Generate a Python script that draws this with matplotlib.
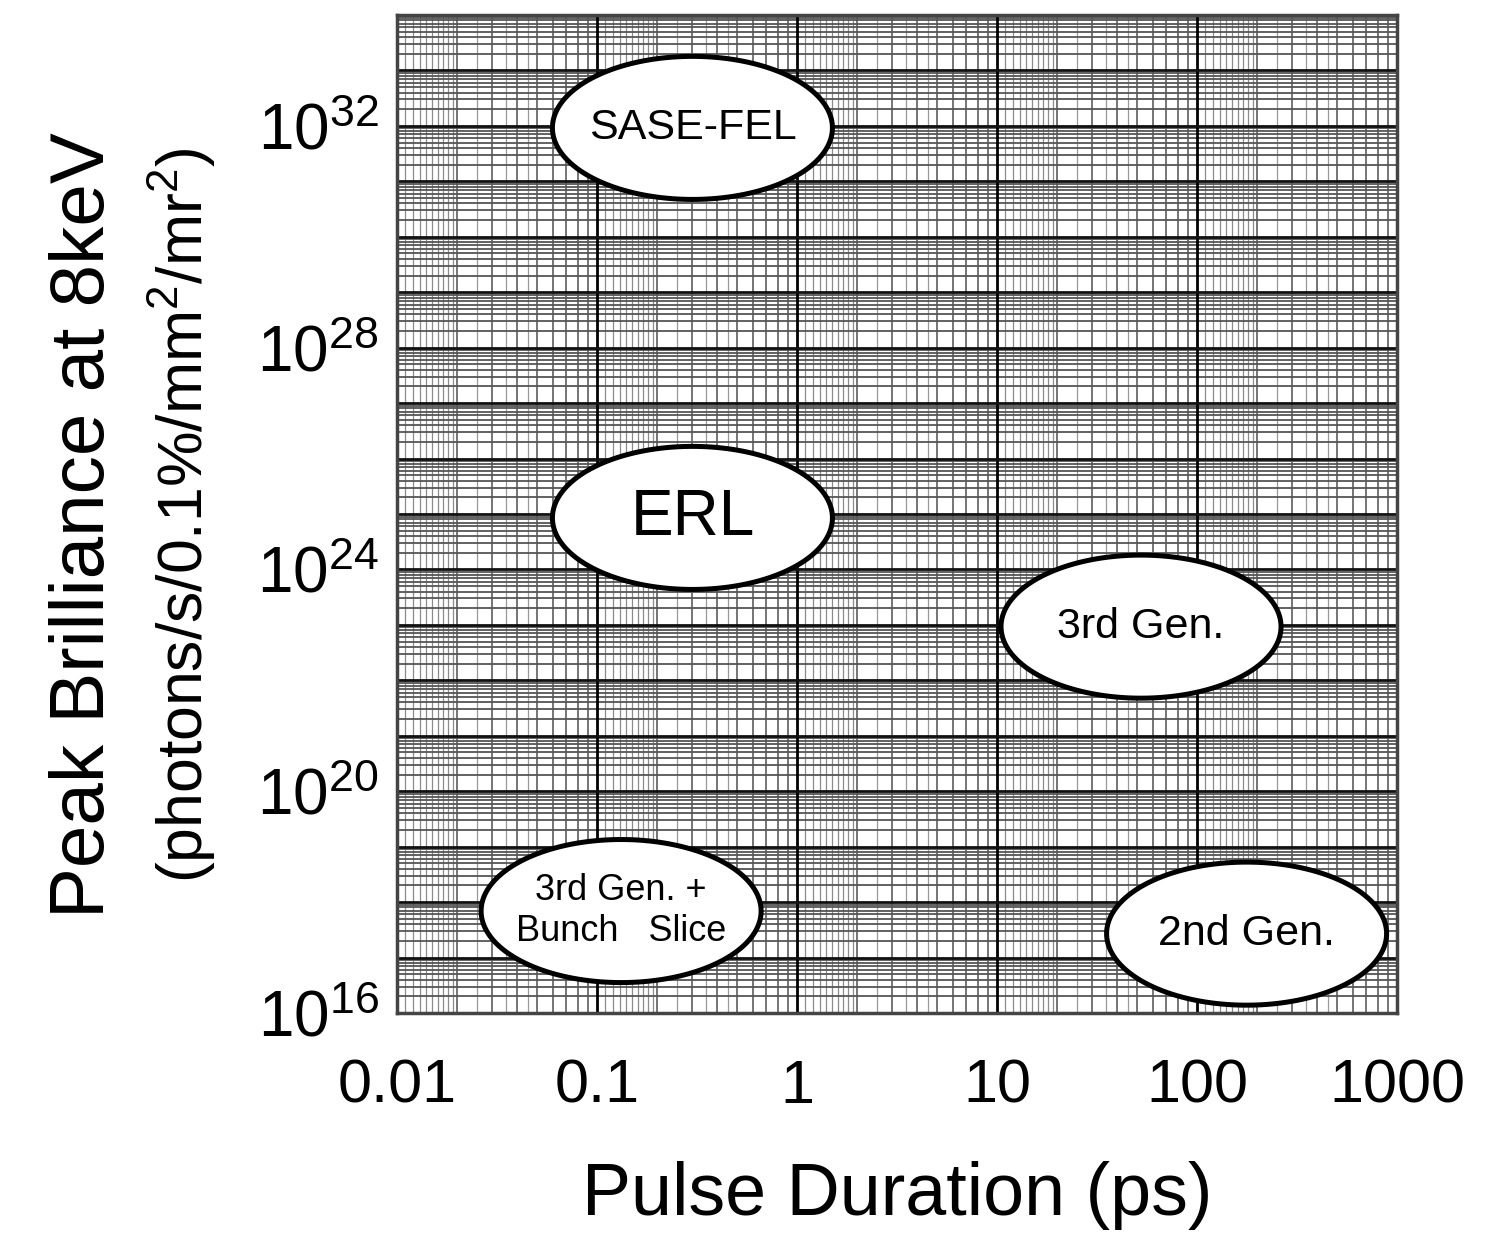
import numpy as np
import matplotlib
matplotlib.use("Agg")
import matplotlib.pyplot as plt

plt.rcParams['font.family'] = ['Liberation Sans', 'DejaVu Sans']
plt.rcParams['mathtext.fontset'] = 'custom'
plt.rcParams['mathtext.rm'] = 'Liberation Sans'
plt.rcParams['mathtext.it'] = 'Liberation Sans'

# source regions (centre in ps / peak brilliance, size in decades)
names = ["SASE-FEL", "ERL", "3rd Gen.", "3rd Gen. +\nBunch   Slice", "2nd Gen."]
center_ps = [0.30, 0.30, 52.5, 0.132, 177.0]
center_brill = [9.2e31, 8.5e24, 9.3e22, 6.9e17, 2.7e17]
label_size = [31, 46, 31, 26, 31]
half_w_dec = 0.70
half_h_dec = 1.29

x_ticks = [0.01, 0.1, 1, 10, 100, 1000]
x_labels = ["0.01", "0.1", "1", "10", "100", "1000"]
y_exps = [16, 20, 24, 28, 32]
x_range = (0.01, 1000)
y_range = (1e16, 1e34)


def main():
    fig = plt.figure(figsize=(15.12, 12.38), dpi=100)
    ax = fig.add_axes([397 / 1512, 1 - 1013 / 1238, 1000 / 1512, 998 / 1238])
    ax.set_xscale('log')
    ax.set_yscale('log')
    ax.set_xlim(*x_range)
    ax.set_ylim(*y_range)

    # graph-paper grid
    x_dec = np.arange(np.log10(x_range[0]), np.log10(x_range[1]))
    y_dec = np.arange(np.log10(y_range[0]), np.log10(y_range[1]))
    for d in x_dec:
        for s in np.arange(1.1, 2.0, 0.1):
            ax.axvline(s * 10 ** d, color="#8c8c8c", lw=0.9, zorder=1)
        for s in [2.5, 3.5, 4.5]:
            ax.axvline(s * 10 ** d, color="#999999", lw=0.9, zorder=1)
        for s in range(2, 10):
            ax.axvline(s * 10 ** d, color="#5e5e5e", lw=1.2, zorder=1)
        if d > x_dec[0]:
            ax.axvline(10 ** d, color="black", lw=2.0, zorder=2)
    for d in y_dec:
        for s in range(2, 10):
            ax.axhline(s * 10 ** d, color="#555555", lw=1.3, zorder=1)
        if d > y_dec[0]:
            ax.axhline(10 ** d, color="#111111", lw=2.0, zorder=2)

    # ellipses drawn in log space
    t = np.linspace(0, 2 * np.pi, 300)
    for name, xc, yc, fs in zip(names, center_ps, center_brill, label_size):
        lx = np.log10(xc) + half_w_dec * np.cos(t)
        ly = np.log10(yc) + half_h_dec * np.sin(t)
        ax.fill(10 ** lx, 10 ** ly, facecolor="white", edgecolor="black",
                lw=3.6, zorder=5)
        ax.text(xc, yc, name, fontsize=fs, ha="center", va="center",
                linespacing=1.25, zorder=6)

    ax.set_xticks(x_ticks)
    ax.set_xticklabels(x_labels)
    ax.set_yticks([10.0 ** e for e in y_exps])
    ax.set_yticklabels(["$10^{%d}$" % e for e in y_exps])
    ax.minorticks_off()
    ax.tick_params(axis="x", length=0, labelsize=44, pad=33)
    ax.tick_params(axis="y", length=0, labelsize=46, pad=13)

    for sp in ax.spines.values():
        sp.set_linewidth(2.5)
        sp.set_color("#444444")
        sp.set_zorder(7)

    ax.text(-0.312, 0.489, "Peak Brilliance at 8keV", rotation=90,
            fontsize=55, ha="center", va="center", transform=ax.transAxes)
    ax.text(-0.215, 0.499, "(photons/s/0.1%/mm$^2$/mr$^2$)", rotation=90,
            fontsize=45, ha="center", va="center", transform=ax.transAxes)
    ax.text(0.5, -0.183, "Pulse Duration (ps)", fontsize=53,
            ha="center", va="center", transform=ax.transAxes)

    fig.savefig("out.png", dpi=100)


if __name__ == '__main__':
    main()
